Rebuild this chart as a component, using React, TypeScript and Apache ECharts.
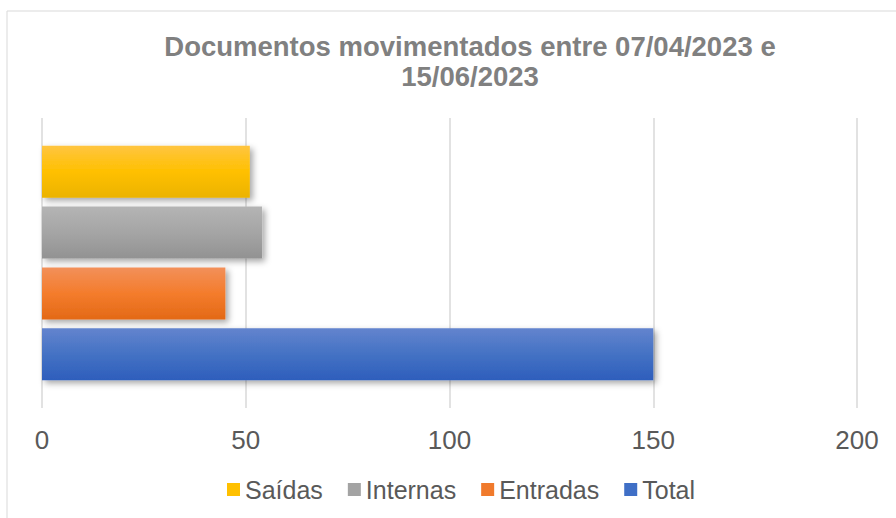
import React, { useEffect, useRef } from "react";
import * as echarts from "echarts";

const categories = [""];
const seriesNames = ["Saídas", "Internas", "Entradas", "Total"];
const saidasValues = [51];
const internasValues = [54];
const entradasValues = [45];
const totalValues = [150];
const legendOrder = ["Saídas", "Internas", "Entradas", "Total"];
const xTicks = { min: 0, max: 200, interval: 50 };

const grad = (top: string, mid: string, bottom: string) =>
  new echarts.graphic.LinearGradient(0, 0, 0, 1, [
    { offset: 0, color: top },
    { offset: 0.5, color: mid },
    { offset: 1, color: bottom },
  ]);

export default function App() {
  const ref = useRef<HTMLDivElement>(null);
  useEffect(() => {
    if (!ref.current) return;
    const chart = echarts.init(ref.current, undefined, { renderer: "svg" });
    const fills = [
      grad("#FFC540", "#FFC000", "#EBB300"),
      grad("#B4B4B4", "#A5A5A5", "#929292"),
      grad("#F2905A", "#F47C2C", "#E36916"),
      grad("#6384CE", "#4472C4", "#2E5EBC"),
    ];
    const legendColors = ["#FFC000", "#A3A3A3", "#F07A2C", "#3F6FC6"];
    const values = [saidasValues, internasValues, entradasValues, totalValues];
    chart.setOption({
      animation: false,
      backgroundColor: "#ffffff",
      title: {
        text: "Documentos movimentados entre 07/04/2023 e\n15/06/2023",
        left: 465,
        top: 26,
        textAlign: "center",
        textStyle: {
          fontFamily: "Liberation Sans",
          fontWeight: "bold",
          fontSize: 27.5,
          lineHeight: 30,
          color: "#808080",
        },
      },
      graphic: [
        {
          type: "rect",
          shape: { x: 7, y: 11, width: 1000, height: 1000 },
          style: { fill: "none", stroke: "#d9d9d9", lineWidth: 1 },
          silent: true,
        },
      ],
      legend: {
        data: legendOrder.map((n) => ({
          name: n,
          itemStyle: { color: legendColors[seriesNames.indexOf(n)] },
        })),
        left: 222,
        top: 472,
        itemWidth: 13,
        itemHeight: 13,
        itemGap: 25,
        icon: "rect",
        textStyle: { fontFamily: "Liberation Sans", fontSize: 25, color: "#595959" },
      },
      grid: { left: 42, right: 39, top: 118, bottom: 110, containLabel: false },
      xAxis: {
        type: "value",
        min: xTicks.min,
        max: xTicks.max,
        interval: xTicks.interval,
        axisLine: { show: false },
        axisTick: { show: false },
        splitLine: { show: true, lineStyle: { color: "#d9d9d9", width: 1.5 } },
        axisLabel: {
          fontFamily: "Liberation Sans",
          fontSize: 26,
          color: "#595959",
          margin: 19,
        },
      },
      yAxis: {
        type: "category",
        data: categories,
        axisLine: { show: false },
        axisTick: { show: false },
        axisLabel: { show: false },
      },
      series: seriesNames.map((name, i) => ({
        name,
        type: "bar",
        data: values[i],
        barWidth: 52,
        barGap: "17%",
        itemStyle: {
          color: fills[i],
          shadowColor: "rgba(0,0,0,0.35)",
          shadowBlur: 6,
          shadowOffsetX: 3,
          shadowOffsetY: 3,
        },
      })),
    });
    return () => chart.dispose();
  }, []);
  return <div ref={ref} style={{ width: 896, height: 518, position: "absolute", left: 0, top: 0 }} />;
}
